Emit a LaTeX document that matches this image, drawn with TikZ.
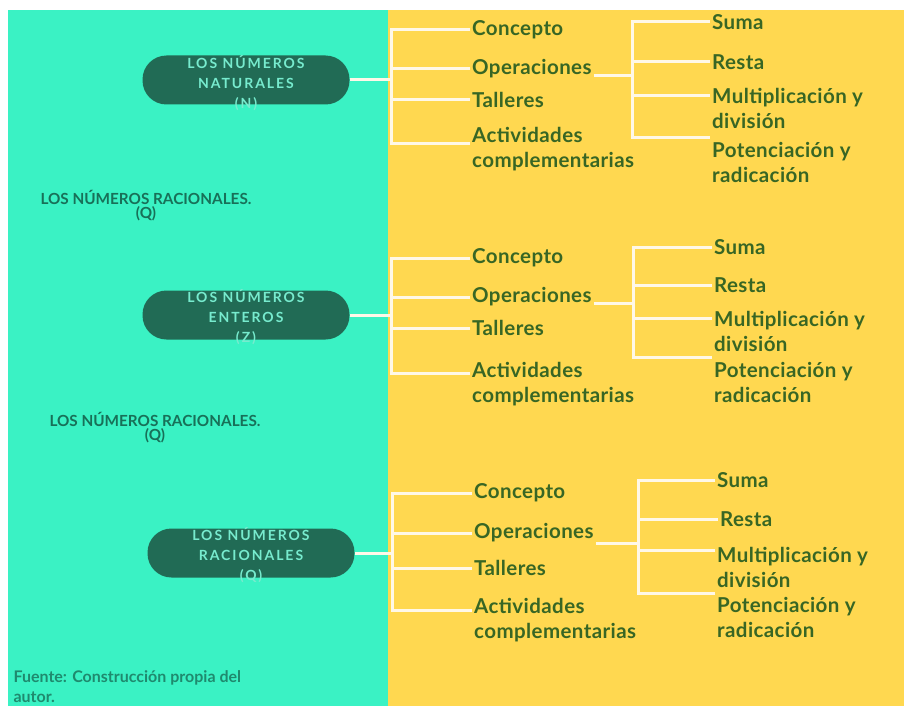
\documentclass[tikz,border=0pt]{standalone}
\usepackage{fontspec}
\setmainfont{Lato}
\newfontfamily\pillfont[LetterSpace=14]{Lato}
\newfontfamily\leaffont[LetterSpace=2]{Lato}
\definecolor{mapteal}{RGB}{58, 242, 196}
\definecolor{mapyellow}{RGB}{255, 216, 80}
\definecolor{pillgreen}{RGB}{33, 107, 85}
\definecolor{leafgreen}{RGB}{56, 102, 36}
\definecolor{titleteal}{RGB}{24, 112, 88}
\definecolor{linecream}{RGB}{255, 248, 232}

\begin{document}
\begin{tikzpicture}[x=1pt, y=-1pt,
  pill/.style={fill=pillgreen, rounded corners=24pt, minimum width=207pt, minimum height=49pt, inner sep=0pt},
  pilltext/.style={text=white!80!pillgreen!40!mapteal, font=\pillfont\bfseries\fontsize{14}{20}\selectfont, align=center},
  leaf/.style={anchor=west, text=leafgreen, font=\leaffont\bfseries\fontsize{20.5}{25}\selectfont, align=left, inner sep=2pt},
  branch/.style={draw=linecream, line width=3pt},
  side/.style={text=titleteal, font=\bfseries\fontsize{15.3}{14}\selectfont, align=center}]
\useasboundingbox (0,0) rectangle (904,706);
\fill[white] (0,0) rectangle (904,706);
\fill[mapteal] (8,10) rectangle (388,706);
\fill[mapyellow] (388,10) rectangle (904,706);

% los numeros naturales
\node[pill] (natPill) at (246,80) {};
\node[pilltext] (natText) at (246,83) {LOS NÚMEROS\\NATURALES\\(N)};
\coordinate (natJ) at (391,80);
\node[leaf] (natCon) at (470,30) {Concepto};
\node[leaf] (natOpe) at (470,69) {Operaciones};
\node[leaf] (natTal) at (470,100) {Talleres};
\node[leaf] (natAct) at (470,149) {Actividades\\complementarias};
\draw[branch] (natPill.east) -- (natJ);
\draw[branch] (natJ) |- (natCon.west);
\draw[branch] (natJ) |- (natOpe.west);
\draw[branch] (natJ) |- (natTal.west);
\draw[branch] (natJ) |- ([yshift=6pt]natAct.west);
\coordinate (natK) at (632,76);
\node[leaf] (natSum) at (710,22) {Suma};
\node[leaf] (natRes) at (710,62) {Resta};
\node[leaf] (natMul) at (710,108) {Multiplicación y\\división};
\node[leaf] (natPot) at (710,162) {Potenciación y\\radicación};
\draw[branch] (natK -| natOpe.east) -- (natK);
\draw[branch] (natK) |- (natSum.west);
\draw[branch] (natK) |- (natRes.west);
\draw[branch] (natK) |- ([yshift=12pt]natMul.west);
\draw[branch] (natK) |- ([yshift=25pt]natPot.west);

\node[side] (racTitleA) at (146,206) {LOS NÚMEROS RACIONALES.\\(Q)};

% los numeros enteros
\node[pill] (entPill) at (246,315) {};
\node[pilltext] (entText) at (246,317) {LOS NÚMEROS\\ENTEROS\\(Z)};
\coordinate (entJ) at (391,315);
\node[leaf] (entCon) at (470,258) {Concepto};
\node[leaf] (entOpe) at (470,297) {Operaciones};
\node[leaf] (entTal) at (470,328) {Talleres};
\node[leaf] (entAct) at (470,384) {Actividades\\complementarias};
\draw[branch] (entPill.east) -- (entJ);
\draw[branch] (entJ) |- (entCon.west);
\draw[branch] (entJ) |- (entOpe.west);
\draw[branch] (entJ) |- (entTal.west);
\draw[branch] (entJ) |- ([yshift=11pt]entAct.west);
\coordinate (entK) at (633,303);
\node[leaf] (entSum) at (712,247) {Suma};
\node[leaf] (entRes) at (712,285) {Resta};
\node[leaf] (entMul) at (712,331) {Multiplicación y\\división};
\node[leaf] (entPot) at (712,382) {Potenciación y\\radicación};
\draw[branch] (entK -| entOpe.east) -- (entK);
\draw[branch] (entK) |- (entSum.west);
\draw[branch] (entK) |- (entRes.west);
\draw[branch] (entK) |- ([yshift=13pt]entMul.west);
\draw[branch] (entK) |- ([yshift=25pt]entPot.west);

\node[side] (racTitleB) at (155,428) {LOS NÚMEROS RACIONALES.\\(Q)};

% los numeros racionales
\node[pill] (racPill) at (251,553) {};
\node[pilltext] (racText) at (251,555) {LOS NÚMEROS\\RACIONALES\\(Q)};
\coordinate (racJ) at (392,553);
\node[leaf] (racCon) at (472,493) {Concepto};
\node[leaf] (racOpe) at (472,533) {Operaciones};
\node[leaf] (racTal) at (472,568) {Talleres};
\node[leaf] (racAct) at (472,620) {Actividades\\complementarias};
\draw[branch] (racPill.east) -- (racJ);
\draw[branch] (racJ) |- (racCon.west);
\draw[branch] (racJ) |- (racOpe.west);
\draw[branch] (racJ) |- (racTal.west);
\draw[branch] (racJ) |- ([yshift=10pt]racAct.west);
\coordinate (racK) at (638,543);
\node[leaf] (racSum) at (715,480) {Suma};
\node[leaf] (racRes) at (718,519) {Resta};
\node[leaf] (racMul) at (715,567) {Multiplicación y\\división};
\node[leaf] (racPot) at (715,617) {Potenciación y\\radicación};
\draw[branch] (racK -| racOpe.east) -- (racK);
\draw[branch] (racK) |- (racSum.west);
\draw[branch] (racK) |- (racRes.west);
\draw[branch] (racK) |- ([yshift=17pt]racMul.west);
\draw[branch] (racK) |- ([yshift=24pt]racPot.west);

\node[anchor=west, text=titleteal!80!mapteal, font=\bfseries\fontsize{16}{20}\selectfont, align=left] (fuente) at (10,687) {Fuente: Construcción propia del\\autor.};
\end{tikzpicture}
\end{document}
